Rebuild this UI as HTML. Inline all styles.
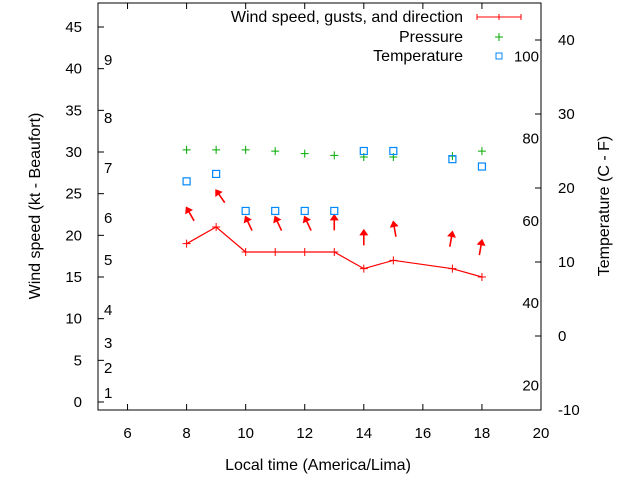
<!DOCTYPE html>
<html><head><meta charset="utf-8"><style>body{margin:0;background:#fff}svg text{font-family:"Liberation Sans",sans-serif;font-size:15px;fill:#000}svg text.big{font-size:16px}</style></head>
<body>
<svg id="c" width="640" height="480" xmlns="http://www.w3.org/2000/svg"></svg>
<script>
const hours=[8,9,10,11,12,13,14,15,17,18];
const wind=[19,21,18,18,18,18,16,17,16,15];
const gusts=[23.3,25.4,22.2,22.2,22.2,22.4,20.6,21.6,20.4,19.4];
const dirs=[-30,-35,-25,-25,-25,0,0,-10,10,10];
const pressure=[30.25,30.25,30.25,30.1,29.8,29.6,29.4,29.4,29.5,30.1];
const temperature=[20.9,21.9,16.9,16.9,16.9,16.9,25,25,23.9,22.9];
const xTicks=[6,8,10,12,14,16,18,20];
const yTicks=[0,5,10,15,20,25,30,35,40,45];
const y2Ticks=[-10,0,10,20,30,40];
const beaufort=[[1,393],[2,368],[3,343],[4,310],[5,260],[6,218],[7,168],[8,118],[9,60]];
const fahr=[20,40,60,80,100];
const L=98,R=541,T=3,B=410;
const X=v=>L+(v-5)*(R-L)/15;
const Y=v=>402-v*375/45;
const Y2=v=>336-v*7.4;
const NS='http://www.w3.org/2000/svg';
const svg=document.getElementById('c');
function el(t,a,txt){const e=document.createElementNS(NS,t);for(const k in a)e.setAttribute(k,a[k]);if(txt!==undefined)e.textContent=txt;svg.appendChild(e);return e;}
let e=el('rect',{x:L,y:T,width:R-L,height:B-T,fill:'none',stroke:'#000'});

xTicks.forEach(v=>{el('line',{x1:X(v),x2:X(v),y1:B,y2:B-6,stroke:'#000'});el('line',{x1:X(v),x2:X(v),y1:T,y2:T+6,stroke:'#000'});
 const t=el('text',{x:X(v),y:438,'text-anchor':'middle'},v);});
yTicks.forEach(v=>{el('line',{x1:L,x2:L+6,y1:Y(v),y2:Y(v),stroke:'#000'});
 const t=el('text',{x:82,y:Y(v)+5,'text-anchor':'end'},v);});
y2Ticks.forEach(v=>{el('line',{x1:R,x2:R-6,y1:Y2(v),y2:Y2(v),stroke:'#000'});
 const t=el('text',{x:558,y:Y2(v)+5},v);});
beaufort.forEach(b=>{const t=el('text',{x:104,y:b[1]+5},b[0]);});
fahr.forEach(f=>{const t=el('text',{x:539,y:Y2((f-32)*5/9)+5,'text-anchor':'end'},f);});
e=el('text',{x:318,y:470,'text-anchor':'middle','class':'big'},'Local time (America/Lima)');
e=el('text',{x:40,y:206,'text-anchor':'middle','class':'big',transform:'rotate(-90 40 206)'},'Wind speed (kt - Beaufort)');
e=el('text',{x:609,y:206,'text-anchor':'middle','class':'big',transform:'rotate(-90 609 206)'},'Temperature (C - F)');
e=el('polyline',{points:hours.map((h,i)=>X(h)+','+Y(wind[i])).join(' '),fill:'none',stroke:'#f00','stroke-width':1.2});

hours.forEach((h,i)=>{const x=X(h),y=Y(wind[i]);e=el('path',{d:`M${x-4},${y}h8M${x},${y-4}v8`,stroke:'#f00'});});
hours.forEach((h,i)=>{const x=X(h),y=Y(gusts[i]),a=dirs[i];
 const g=document.createElementNS(NS,'g');g.setAttribute('transform',`translate(${x},${y}) rotate(${a})`);
 
 
 g.innerHTML='<line x1="0" y1="0" x2="0" y2="15" stroke="#f00" stroke-width="1.6"/><polygon points="0,-1.5 -4.5,5 4.5,5" fill="#f00"/>';
 svg.appendChild(g);});
hours.forEach((h,i)=>{const x=X(h),y=Y(pressure[i]);e=el('path',{d:`M${x-4},${y}h8M${x},${y-4}v8`,stroke:'#0a0'});});
hours.forEach((h,i)=>{const x=X(h),y=Y2(temperature[i]);e=el('rect',{x:x-3.5,y:y-3.5,width:7,height:7,fill:'none',stroke:'#08f','stroke-width':1.2});});
e=el('text',{x:463,y:22,'text-anchor':'end','class':'big'},'Wind speed, gusts, and direction');
el('path',{d:'M477,17h44M477,14v6M499,14v6M521,14v6',stroke:'#f00'});
e=el('text',{x:463,y:42,'text-anchor':'end','class':'big'},'Pressure');
el('path',{d:'M495,37h8M499,33v8',stroke:'#0a0'});
e=el('text',{x:463,y:61,'text-anchor':'end','class':'big'},'Temperature');
el('rect',{x:496,y:53,width:6,height:6,fill:'none',stroke:'#08f'});
</script>
</body></html>
